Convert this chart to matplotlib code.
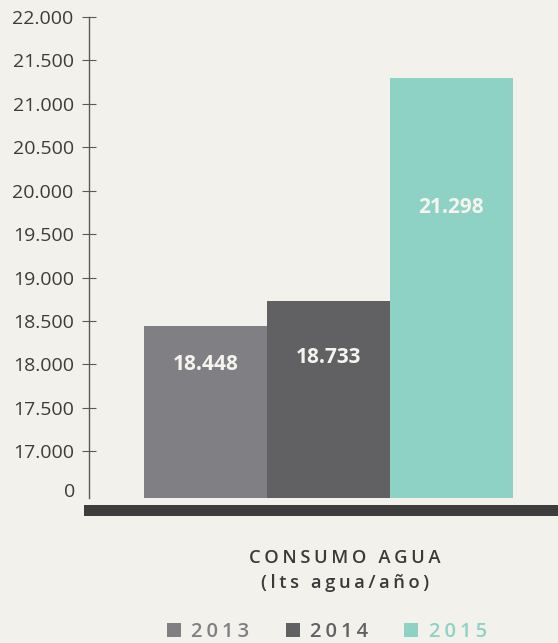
import matplotlib.pyplot as plt
from matplotlib.patches import Rectangle
from matplotlib.lines import Line2D

years = ['2013', '2014', '2015']
consumo = [18448, 18733, 21298]
value_labels = ['18.448', '18.733', '21.298']
yticks = [17000, 17500, 18000, 18500, 19000, 19500, 20000, 20500, 21000, 21500, 22000]
ytick_labels = ['17.000', '17.500', '18.000', '18.500', '19.000', '19.500',
                '20.000', '20.500', '21.000', '21.500', '22.000']

colors = ['#808084', '#616163', '#8ed2c6']
bg = '#f3f1ec'
dark = '#3d3d3d'
base = 16462  # cut in the axis, shown as "0"

plt.rcParams['font.family'] = ['Open Sans', 'DejaVu Sans']

def spaced(s):
    return '\u2009'.join(s)

fig = plt.figure(figsize=(5.58, 6.43), dpi=100, facecolor=bg)
W, H = 558, 643
ax = fig.add_axes([89 / W, 1 - 498 / H, 469 / W, (498 - 17) / H])
ax.set_facecolor(bg)

x = [0, 1, 2]
ax.bar(x, [v - base for v in consumo], bottom=base, width=1.0, color=colors)
ax.set_xlim(-0.947, 2.866)
ax.set_ylim(base, 22000)

label_y = [18000, 18080, 19804]
for xi, ly, txt in zip(x, label_y, value_labels):
    ax.text(xi, ly, txt, ha='center', va='center', color='#f6f4ef',
            fontsize=15, fontweight='bold')

for s in ['top', 'right', 'bottom']:
    ax.spines[s].set_visible(False)
ax.spines['left'].set_color('#5a5a5a')
ax.spines['left'].set_linewidth(1.0)
ax.set_xticks([])
ax.set_yticks(yticks)
ax.set_yticklabels(ytick_labels)
ax.tick_params(axis='y', direction='inout', length=10, width=0.8, color='#5a5a5a',
               labelsize=14, labelcolor='#3c3c3c', pad=6)
ax.text(-0.03, 16531, '0', transform=ax.get_yaxis_transform(), ha='right', va='center',
        fontsize=14, color='#3c3c3c')

# thick base line under the bars
fig.add_artist(Rectangle((84 / W, 1 - 516 / H), (W - 84) / W, 11 / H,
                         transform=fig.transFigure, color=dark, lw=0))

fig.text(345 / W, 1 - 558 / H, spaced('CONSUMO AGUA'), ha='center', va='center',
         fontsize=13.2, fontweight='semibold', color='#3a3a3a')
fig.text(345 / W, 1 - 583 / H, spaced('(lts agua/año)'), ha='center', va='center',
         fontsize=13.2, fontweight='semibold', color='#3a3a3a')

handles = [Line2D([], [], marker='s', linestyle='none', markersize=10,
                  markerfacecolor=c, markeredgewidth=0) for c in colors]
leg = fig.legend(handles, [spaced(y) for y in years], loc='center',
                 bbox_to_anchor=(327 / W, 1 - 632 / H), ncol=3, frameon=False,
                 prop={'size': 14.5, 'weight': 'semibold'}, handlelength=0.7,
                 handletextpad=0.5, columnspacing=1.8, borderpad=0)
for t, c in zip(leg.get_texts(), colors):
    t.set_color(c)

fig.savefig('out.png', dpi=100, facecolor=bg)
